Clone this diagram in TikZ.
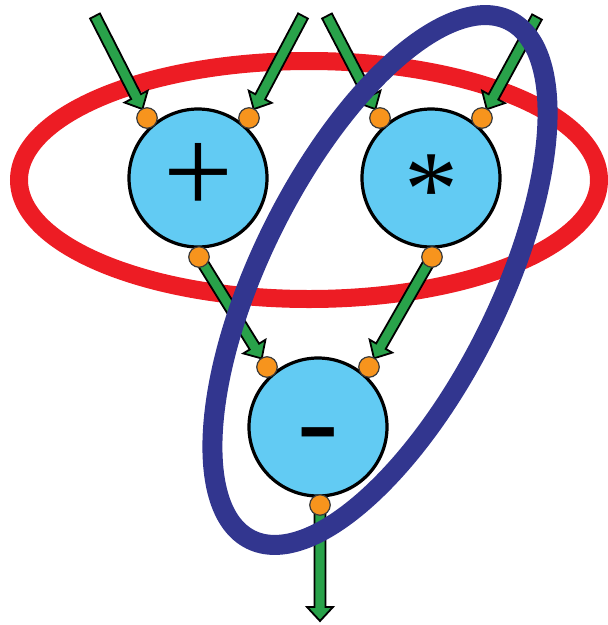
\documentclass[tikz,border=0pt]{standalone}
\usepackage{fontspec}
\setmainfont{Liberation Serif}
\usetikzlibrary{calc}
\definecolor{ringred}{HTML}{ED1C24}
\definecolor{ringblue}{HTML}{32368F}
\definecolor{opblue}{HTML}{62CBF3}
\definecolor{flowgreen}{HTML}{29A24A}
\definecolor{portorange}{HTML}{F7941D}
\definecolor{portedge}{HTML}{3A3A3A}
\tikzset{
  op/.style={circle, draw=black, line width=3.2pt, fill=opblue, minimum size=138pt, inner sep=0pt},
  oplabel/.style={font=\fontsize{124}{124}\selectfont, inner sep=0pt},
  port/.style={circle, draw=portedge, line width=1.2pt, fill=portorange, minimum size=20.5pt, inner sep=0pt},
  fatarrow/.style={draw=black, line width=1.8pt, fill=flowgreen, line join=miter},
  redring/.style={draw=ringred, line width=18pt},
  bluering/.style={draw=ringblue, line width=20pt}
}
\newcommand{\flowarrow}[2]{%
  \path ($(#2)!14pt!(#1)$) coordinate (hb);
  \draw[fatarrow] ($(#1)!5.5pt!90:(#2)$) -- ($(hb)!5.5pt!90:(#2)$) -- ($(hb)!13pt!90:(#2)$) -- (#2) -- ($(hb)!13pt!-90:(#2)$) -- ($(hb)!5.5pt!-90:(#2)$) -- ($(#1)!5.5pt!-90:(#2)$) -- cycle;}
\begin{document}
\begin{tikzpicture}[x=1pt,y=-1pt]
\useasboundingbox (0,0) rectangle (608,625);
% red ring
\draw[redring] (309,180) ellipse [x radius=290, y radius=119];
% positions of ports and tails
\coordinate (a1) at (95,16);
\coordinate (a2) at (303,16);
\coordinate (a3) at (327,16);
\coordinate (a4) at (537,17);
\coordinate (out) at (320,621);
\path (147,118) coordinate (p1c) (249,118) coordinate (p2c) (199,257) coordinate (p3c)
      (380,118) coordinate (t1c) (482,118) coordinate (t2c) (432,257) coordinate (t3c)
      (267,367) coordinate (m1c) (369,367) coordinate (m2c) (320,505) coordinate (m3c);
\path ($(p1c)!10pt!(a1)$) coordinate (tip1)
      ($(p2c)!10pt!(a2)$) coordinate (tip2)
      ($(t1c)!10pt!(a3)$) coordinate (tip3)
      ($(t2c)!10pt!(a4)$) coordinate (tip4)
      ($(m1c)!10pt!(p3c)$) coordinate (tip5)
      ($(m2c)!10pt!(t3c)$) coordinate (tip6);
% arrows
\flowarrow{a1}{tip1}
\flowarrow{a2}{tip2}
\flowarrow{a3}{tip3}
\flowarrow{a4}{tip4}
\flowarrow{p3c}{tip5}
\flowarrow{t3c}{tip6}
\flowarrow{m3c}{out}
% operators
\node[op] (plusop) at (198,178) {};
\node[op] (timesop) at (431,178) {};
\node[op] (minusop) at (318,427) {};
\node[oplabel] (plustxt) at (plusop) {+};
\node[oplabel, font=\fontsize{108}{108}\selectfont, yshift=-12pt] (timestxt) at (timesop) {*};
\node[oplabel, yshift=-18pt] (minustxt) at (minusop) {-};
% ports
\foreach \p in {p1,p2,p3,t1,t2,t3,m1,m2,m3}
  \node[port] (\p) at (\p c) {};
% blue ring
\draw[bluering, rotate around={63.5:(380,280)}] (380,280) ellipse [x radius=290, y radius=119];
\end{tikzpicture}
\end{document}
